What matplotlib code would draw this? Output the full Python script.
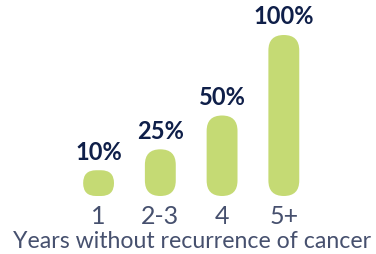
import matplotlib
matplotlib.use("Agg")
import matplotlib.pyplot as plt
from matplotlib.patches import FancyBboxPatch

# data
categories = ["1", "2-3", "4", "5+"]
value_labels = ["10%", "25%", "50%", "100%"]
# bar heights as drawn (the picture is not to scale for the short bars)
bar_heights = [16, 29, 50, 100]

BAR_COLOR = "#c5da74"
LABEL_COLOR = "#0f1f49"
TICK_COLOR = "#46506e"

W, H, DPI = 376, 255, 100
fig = plt.figure(figsize=(W / DPI, H / DPI), dpi=DPI)
ax_left, ax_bottom = 67.7 / W, 58 / H
ax_w, ax_h = 247 / W, 161 / H
ax = fig.add_axes([ax_left, ax_bottom, ax_w, ax_h])
ax.set_xlim(-0.5, len(categories) - 0.5)
ax.set_ylim(0, 100)
ax.axis("off")

bar_w = 0.5
px_per_x = ax_w * W / len(categories)
px_per_y = ax_h * H / 100
aspect = px_per_x / px_per_y

for i, (h, lab) in enumerate(zip(bar_heights, value_labels)):
    w_px = bar_w * px_per_x
    h_px = h * px_per_y
    r_px = min(w_px, h_px) / 2
    box = FancyBboxPatch((i - bar_w / 2, 0), bar_w, h,
                         boxstyle=f"round,pad=0,rounding_size={r_px / px_per_x}",
                         mutation_aspect=aspect,
                         fc=BAR_COLOR, ec="none", clip_on=False)
    ax.add_patch(box)
    ax.annotate(lab, (i, h), xytext=(0, 5.5), textcoords="offset points",
                ha="center", va="bottom", fontsize=17, fontweight="bold",
                family="Lato", color=LABEL_COLOR, annotation_clip=False)
    ax.annotate(categories[i], (i, 0), xytext=(0, -6), textcoords="offset points",
                ha="center", va="top", fontsize=18, family="Lato",
                color=TICK_COLOR, annotation_clip=False)

fig.text(0.5 * (15 + 370) / W, 1 - 242 / H, "Years without recurrence of cancer",
         ha="center", va="center", fontsize=16.7, family="Lato",
         color=TICK_COLOR)

fig.savefig("out.png", dpi=DPI)
